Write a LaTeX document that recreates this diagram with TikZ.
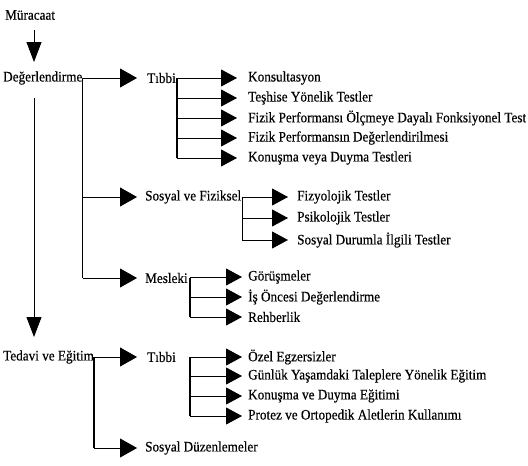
\documentclass[tikz,border=0pt]{standalone}
\usepackage{fontspec}
\setmainfont{Liberation Serif}[FakeStretch=0.91,FakeBold=0.4]
\usetikzlibrary{arrows.meta}
\begin{document}
\begin{tikzpicture}[x=1pt,y=-1pt,
 lbl/.style={anchor=west,inner sep=0pt,font=\fontsize{14.5}{16}\selectfont},
 thinln/.style={line width=0.9pt},
 trunk/.style={line width=1.7pt},
 bigarr/.style={thinln,-{Triangle[length=17pt,width=19pt]}},
 smallarr/.style={thinln,-{Triangle[length=16pt,width=17pt]}},
 vertarr/.style={thinln,-{Triangle[length=20pt,width=15pt]}},
]
\useasboundingbox (0,0) rectangle (528,466);
% main column
\node[lbl] (mur) at (5,15) {Müracaat};
\node[lbl] (deg) at (3,78) {Değerlendirme};
\node[lbl] (ted) at (3,357) {Tedavi ve Eğitim};
% second level
\node[lbl] (tib1) at (147,78) {Tıbbi};
\node[lbl] (sf) at (145,197) {Sosyal ve Fiziksel};
\node[lbl] (mes) at (145,278) {Mesleki};
\node[lbl] (tib2) at (147,357) {Tıbbi};
\node[lbl] (sd) at (145,448) {Sosyal Düzenlemeler};
% third level: Tıbbi (Değerlendirme)
\node[lbl] (k1) at (248,78) {Konsultasyon};
\node[lbl] (k2) at (248,98) {Teşhise Yönelik Testler};
\node[lbl] (k3) at (248,118) {Fizik Performansı Ölçmeye Dayalı Fonksiyonel Test};
\node[lbl] (k4) at (248,138) {Fizik Performansın Değerlendirilmesi};
\node[lbl] (k5) at (248,158) {Konuşma veya Duyma Testleri};
% Sosyal ve Fiziksel
\node[lbl] (s1) at (297,197) {Fizyolojik Testler};
\node[lbl] (s2) at (297,218) {Psikolojik Testler};
\node[lbl] (s3) at (297,240) {Sosyal Durumla İlgili Testler};
% Mesleki
\node[lbl] (m1) at (248,277) {Görüşmeler};
\node[lbl] (m2) at (248,297) {İş Öncesi Değerlendirme};
\node[lbl] (m3) at (248,317) {Rehberlik};
% Tıbbi (Tedavi)
\node[lbl] (t1) at (248,357) {Özel Egzersizler};
\node[lbl] (t2) at (248,376) {Günlük Yaşamdaki Taleplere Yönelik Eğitim};
\node[lbl] (t3) at (248,396) {Konuşma ve Duyma Eğitimi};
\node[lbl] (t4) at (248,416) {Protez ve Ortopedik Aletlerin Kullanımı};

% vertical arrows on the left
\coordinate (cx) at (34,0);
\draw[vertarr] (cx |- 0,30) -- (cx |- 0,62);
\draw[vertarr] (cx |- 0,98) -- (cx |- 0,337);

% Değerlendirme branches
\draw[trunk] (deg.east) -- (deg.east |- mes.west);
\draw[bigarr,shorten >=10pt] (deg.east) -- (tib1.west);
\draw[bigarr,shorten >=8pt] (deg.east |- sf.west) -- (sf.west);
\draw[bigarr,shorten >=8pt] (deg.east |- mes.west) -- (mes.west);

% Tıbbi list
\coordinate (tt1) at ([xshift=1pt]tib1.east);
\draw[trunk] (tt1) -- (tt1 |- k5.west);
\foreach \n in {k1,k2,k3,k4,k5}
  \draw[smallarr,shorten >=11pt] (tt1 |- \n.west) -- (\n.west);

% Sosyal ve Fiziksel list
\coordinate (ts) at ([xshift=1pt]sf.east);
\draw[trunk] (ts) -- (ts |- s3.west);
\foreach \n in {s1,s2,s3}
  \draw[smallarr,shorten >=9pt] (ts |- \n.west) -- (\n.west);

% Mesleki list
\coordinate (tm) at ([xshift=2pt]mes.east);
\draw[trunk] (tm) -- (tm |- m3.west);
\foreach \n in {m1,m2,m3}
  \draw[smallarr,shorten >=6pt] (tm |- \n.west) -- (\n.west);

% Tedavi ve Eğitim branches
\draw[trunk] (ted.east) -- (ted.east |- sd.west);
\draw[bigarr,shorten >=10pt] (ted.east) -- (tib2.west);
\draw[bigarr,shorten >=8pt] (ted.east |- sd.west) -- (sd.west);

% Tıbbi (Tedavi) list
\coordinate (tt2) at (190,357);
\draw[trunk] (tt2) -- (tt2 |- t4.west);
\foreach \n in {t1,t2,t3,t4}
  \draw[smallarr,shorten >=6pt] (tt2 |- \n.west) -- (\n.west);
\end{tikzpicture}
\end{document}
